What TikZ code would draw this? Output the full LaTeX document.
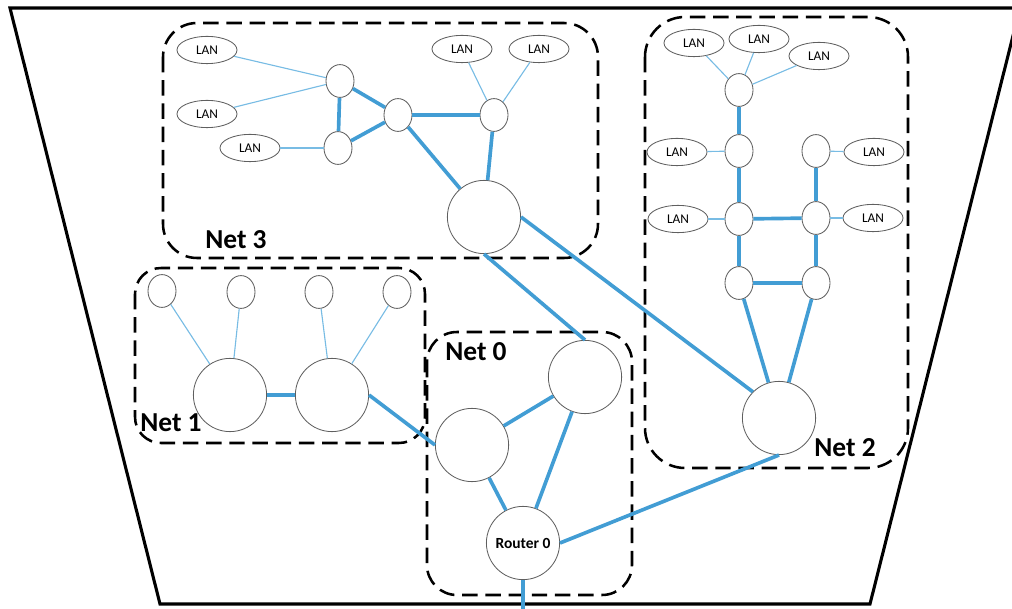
\documentclass[tikz,border=0pt]{standalone}
\usepackage{fontspec}
\setmainfont{Carlito}
\usepackage{xcolor}
\usepackage{tikz}
\usetikzlibrary{positioning, shapes.geometric}

\definecolor{linkblue}{RGB}{66,157,212}
\definecolor{lanblue}{RGB}{120,188,228}
\definecolor{nodegray}{RGB}{95,95,95}

\begin{document}
\begin{tikzpicture}[x=0.025cm, y=-0.025cm,
  every node/.style={inner sep=0pt},
  lan/.style={ellipse,draw=nodegray,line width=0.6pt,minimum width=1.5cm,minimum height=0.68cm,font=\fontsize{9.5}{10}\selectfont},
  sw/.style={ellipse,draw=nodegray,line width=0.6pt,minimum width=0.7cm,minimum height=0.82cm},
  hub/.style={circle,draw=nodegray,line width=0.6pt,minimum size=1.83cm,font=\bfseries\fontsize{11}{12}\selectfont},
  trunk/.style={draw=linkblue,line width=2.6pt},
  access/.style={draw=lanblue,line width=0.8pt},
  netbox/.style={draw=black,line width=1.8pt,dash pattern=on 11pt off 5.5pt},
  netlabel/.style={font=\bfseries\fontsize{19.5}{20}\selectfont}]
  \useasboundingbox (0,0) rectangle (1012,609);
  \clip (0,0) rectangle (1012,609);

  % outer frame
  \draw[line width=2.2pt,line join=miter] (10,8) -- (160,604) -- (870,604) -- (1020,8) -- cycle;

  % net boxes
  \draw[netbox,rounded corners=0.85cm] (163,23) rectangle (598,258);
  \draw[netbox,rounded corners=1.0cm] (645,17) rectangle (908,468);
  \draw[netbox,rounded corners=0.65cm] (135,268) rectangle (425,443);
  \draw[netbox,rounded corners=0.75cm] (427,332) rectangle (632,595);
  \node[netlabel] (lbl3) at (236,240) {Net 3};
  \node[netlabel] (lbl2) at (845,448) {Net 2};
  \node[netlabel] (lbl1) at (171,423) {Net 1};
  \node[netlabel] (lbl0) at (476,352) {Net 0};

  % Net 3
  \node[lan] (n3l1) at (207,50) {LAN};
  \node[lan] (n3l2) at (207,114) {LAN};
  \node[lan] (n3l3) at (250,148) {LAN};
  \node[lan] (n3l4) at (462,49) {LAN};
  \node[lan] (n3l5) at (539,49) {LAN};
  \node[sw] (n3a) at (340,81) {};
  \node[sw] (n3b) at (338,148) {};
  \node[sw] (n3c) at (398,115) {};
  \node[sw] (n3d) at (494,115) {};
  \node[hub] (n3r) at (484,217) {};

  % Net 2
  \node[lan] (n2l1) at (694,43) {LAN};
  \node[lan] (n2l2) at (759,39) {LAN};
  \node[lan] (n2l3) at (819,56) {LAN};
  \node[lan] (n2l4) at (677,152) {LAN};
  \node[lan] (n2l5) at (874,152) {LAN};
  \node[lan] (n2l6) at (678,219) {LAN};
  \node[lan] (n2l7) at (873,218) {LAN};
  \node[sw] (n2t) at (739,90) {};
  \node[sw] (n2a) at (739,151) {};
  \node[sw] (n2b) at (816,151) {};
  \node[sw] (n2c) at (739,219) {};
  \node[sw] (n2d) at (816,218) {};
  \node[sw] (n2e) at (739,283) {};
  \node[sw] (n2f) at (816,283) {};
  \node[hub] (n2r) at (779,418) {};

  % Net 1
  \node[sw] (n1a) at (162,291) {};
  \node[sw] (n1b) at (241,292) {};
  \node[sw] (n1c) at (319,292) {};
  \node[sw] (n1d) at (397,292) {};
  \node[hub] (n1r) at (230,395) {};
  \node[hub] (n1s) at (332,395) {};

  % Net 0
  \node[hub] (n0a) at (585,377) {};
  \node[hub] (n0b) at (472,445) {};
  \node[hub] (router) at (523,543) {Router 0};
  \coordinate (uplink) at (523,612);

  % access links
  \draw[access] (n3l1) -- (n3a);
  \draw[access] (n3l2) -- (n3a);
  \draw[access] (n3l3) -- (n3b);
  \draw[access] (n3l4) -- (n3d);
  \draw[access] (n3l5) -- (n3d);
  \draw[access] (n2l1) -- (n2t);
  \draw[access] (n2l2) -- (n2t);
  \draw[access] (n2l3) -- (n2t);
  \draw[access] (n2l4) -- (n2a);
  \draw[access] (n2l5) -- (n2b);
  \draw[access] (n2l6) -- (n2c);
  \draw[access] (n2l7) -- (n2d);
  \draw[access] (n1a) -- (n1r);
  \draw[access] (n1b) -- (n1r);
  \draw[access] (n1c) -- (n1s);
  \draw[access] (n1d) -- (n1s);

  % trunk links
  \draw[trunk] (n3a) -- (n3b);
  \draw[trunk] (n3a) -- (n3c);
  \draw[trunk] (n3b) -- (n3c);
  \draw[trunk] (n3c) -- (n3d);
  \draw[trunk] (n3c) -- (n3r);
  \draw[trunk] (n3d) -- (n3r);
  \draw[trunk] (n2t) -- (n2a);
  \draw[trunk] (n2a) -- (n2c);
  \draw[trunk] (n2c) -- (n2e);
  \draw[trunk] (n2c) -- (n2d);
  \draw[trunk] (n2e) -- (n2f);
  \draw[trunk] (n2b) -- (n2d);
  \draw[trunk] (n2d) -- (n2f);
  \draw[trunk] (n2e) -- (n2r);
  \draw[trunk] (n2f) -- (n2r);
  \draw[trunk] (n1r) -- (n1s);
  \draw[trunk] (n0a) -- (n0b);
  \draw[trunk] (n0a) -- (router);
  \draw[trunk] (n0b) -- (router);
  \draw[trunk] (n1s.east) -- (n0b.west);
  \draw[trunk] (n3r.south) -- (n0a.north);
  \draw[trunk] (n3r.east) -- (n2r.north west);
  \draw[trunk] (n2r.south) -- (router.east);
  \draw[trunk] (router.south) -- (uplink);
\end{tikzpicture}
\end{document}
